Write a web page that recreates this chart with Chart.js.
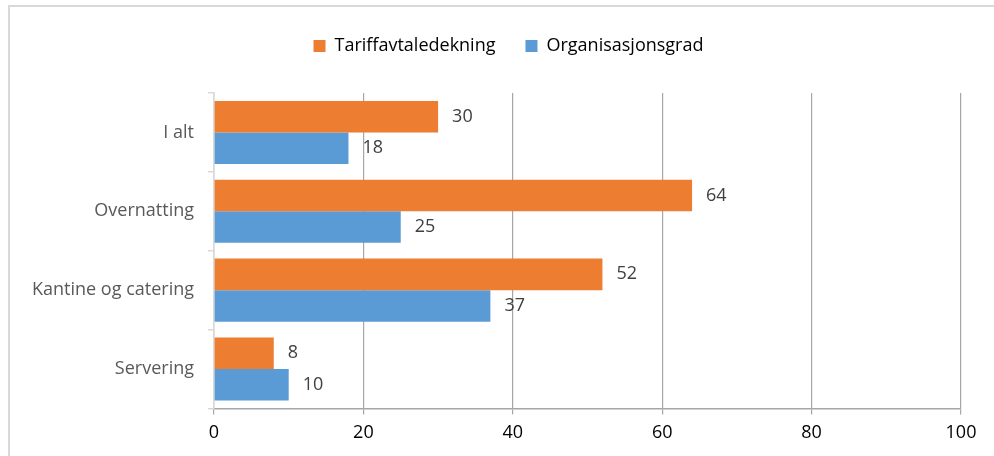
<!DOCTYPE html>
<html>
<head>
<meta charset="utf-8">
<script src="https://cdn.jsdelivr.net/npm/chart.js@4.4.0/dist/chart.umd.min.js"></script>
<style>
    html, body { margin: 0; padding: 0; background: #fff; overflow: hidden; }
    #frame { position: absolute; left: 8px; top: 5px; width: 1100px; height: 600px; border: 2px solid #d9d9d9; box-sizing: border-box; }
    #wrap { position: absolute; left: 0; top: 0; width: 994px; height: 456px; }
</style>
</head>
<body>
<div id="frame"></div>
<div id="wrap"><canvas id="barChart"></canvas></div>
<script>
const categories = ['I alt', 'Overnatting', 'Kantine og catering', 'Servering'];
const tariffavtaledekning = [30, 64, 52, 8];
const organisasjonsgrad = [18, 25, 37, 10];
const xTicks = [0, 20, 40, 60, 80, 100];

const fontFamily = "'Open Sans', sans-serif";

// draws the value next to the end of each bar
const valueLabels = {
    id: 'valueLabels',
    afterDatasetsDraw(chart) {
        const ctx = chart.ctx;
        ctx.save();
        ctx.font = '18px ' + fontFamily;
        ctx.fillStyle = '#404040';
        ctx.textAlign = 'left';
        ctx.textBaseline = 'middle';
        chart.data.datasets.forEach((ds, i) => {
            chart.getDatasetMeta(i).data.forEach((bar, j) => {
                ctx.fillText(ds.data[j], bar.x + 14, bar.y);
            });
        });
        ctx.restore();
    }
};

// push the plot area down below the legend, and centre the legend on the frame
const legendSpace = {
    id: 'legendSpace',
    beforeInit(chart) {
        const fit = chart.legend.fit;
        chart.legend.fit = function () {
            fit.bind(chart.legend)();
            this.height += 28;
        };
    },
    afterLayout(chart) {
        chart.legend.left += 28;
        chart.legend.right += 28;
    }
};

const ctx = document.getElementById('barChart').getContext('2d');
const barChart = new Chart(ctx, {
    type: 'bar',
    data: {
        labels: categories,
        datasets: [{
            label: 'Tariffavtaledekning',
            data: tariffavtaledekning,
            backgroundColor: '#ED7D31'
        }, {
            label: 'Organisasjonsgrad',
            data: organisasjonsgrad,
            backgroundColor: '#5B9BD5'
        }]
    },
    options: {
        indexAxis: 'y',
        responsive: true,
        maintainAspectRatio: false,
        animation: false,
        datasets: {
            bar: { categoryPercentage: 0.8, barPercentage: 1 }
        },
        layout: { padding: { top: 7, right: 33, bottom: 4, left: 0 } },
        scales: {
            x: {
                min: 0,
                max: 100,
                afterBuildTicks: (scale) => { scale.ticks = xTicks.map(v => ({ value: v })); },
                grid: { color: '#a6a6a6', lineWidth: 1.2, tickLength: 6 },
                border: { color: '#a6a6a6', width: 1.5 },
                ticks: { color: '#000', font: { family: fontFamily, size: 18 }, padding: 8 }
            },
            y: {
                afterFit: (scale) => { scale.width = 214; },
                grid: { drawOnChartArea: false, color: '#d9d9d9', lineWidth: 1.5, tickLength: 6 },
                border: { color: '#d9d9d9', width: 1.5 },
                ticks: { color: '#595959', font: { family: fontFamily, size: 18 }, padding: 14 }
            }
        },
        plugins: {
            legend: {
                position: 'top',
                labels: {
                    boxWidth: 12,
                    boxHeight: 12,
                    padding: 30,
                    color: '#000',
                    font: { family: fontFamily, size: 18 }
                }
            },
            tooltip: { enabled: false }
        }
    },
    plugins: [valueLabels, legendSpace]
});
</script>
</body>
</html>
